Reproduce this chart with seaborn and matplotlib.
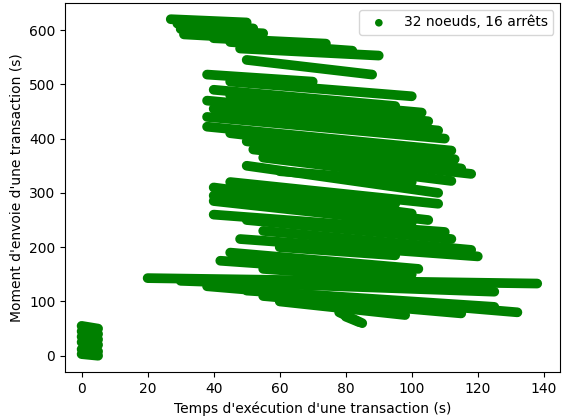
import matplotlib
matplotlib.use("Agg")
import matplotlib.pyplot as plt
import pandas as pd
import seaborn as sns

# streaks of transactions: start (x0, y0) and end (x1, y1)
x0 = [0, 0, 0, 0, 0, 0,
      27, 29, 30, 31, 40, 45, 48, 50, 38, 45, 40, 45, 38, 40, 38, 38, 45, 50, 52,
      55, 50, 45, 40, 40, 40, 40, 50, 55, 48, 45, 42, 20, 30, 38, 50, 55, 60, 78, 80,
      55, 60, 60, 55, 60, 65]
y0 = [55, 45, 35, 25, 12, 3,
      620, 612, 602, 592, 585, 578, 566, 545, 518, 505, 490, 480, 470, 455, 440, 422, 410, 395, 380,
      365, 350, 320, 310, 295, 285, 260, 250, 230, 215, 190, 175, 143, 138, 128, 120, 110, 100, 80, 72,
      440, 300, 200, 160, 340, 270]
x1 = [5, 5, 5, 5, 5, 5,
      50, 52, 55, 55, 74, 82, 90, 88, 70, 100, 95, 103, 105, 108, 110, 112, 113, 115, 118,
      112, 108, 108, 100, 105, 100, 110, 112, 118, 120, 102, 100, 138, 125, 132, 125, 115, 98, 85, 84,
      85, 95, 95, 100, 100, 100]
y1 = [50, 40, 30, 20, 8, 0,
      614, 603, 594, 584, 575, 562, 553, 518, 505, 478, 460, 448, 432, 415, 400, 378, 362, 345, 335,
      322, 300, 280, 262, 250, 245, 228, 215, 195, 183, 160, 150, 133, 118, 80, 90, 78, 75, 60, 62,
      420, 280, 185, 140, 320, 250]

rows = []
for i in range(len(x0)):
    rows.append({"id": i, "x": x0[i], "y": y0[i]})
    rows.append({"id": i, "x": x1[i], "y": y1[i]})
df = pd.DataFrame(rows)

fig, ax = plt.subplots(figsize=(5.66, 4.18), dpi=100)
sns.lineplot(data=df, x="x", y="y", units="id", estimator=None, sort=False,
             color="green", lw=7, solid_capstyle="round", ax=ax)
sns.scatterplot(data=df, x="x", y="y", color="green", s=30, edgecolor="none",
                label="32 noeuds, 16 arrêts", ax=ax)
ax.set_xlim(-5, 145)
ax.set_ylim(-30, 650)
ax.set_xlabel("Temps d'exécution d'une transaction (s)")
ax.set_ylabel("Moment d'envoie d'une transaction (s)")
ax.legend(loc="upper right")
plt.subplots_adjust(left=0.115, right=0.99, top=0.993, bottom=0.11)
plt.savefig("out.png")
